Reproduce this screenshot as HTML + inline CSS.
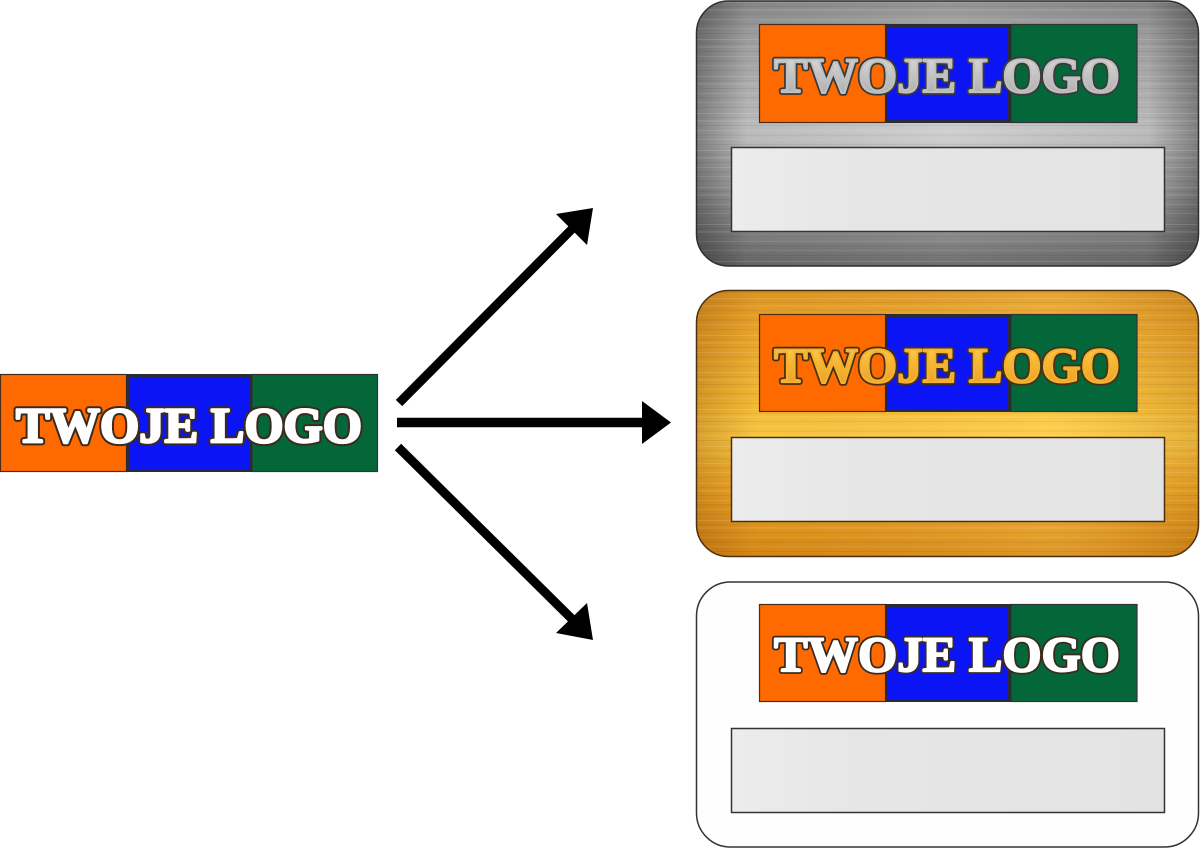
<!DOCTYPE html>
<html>
<head>
<meta charset="utf-8">
<style>
html,body{margin:0;padding:0;background:#fff;}
svg{display:block;}
.t{font-family:"Liberation Serif",serif;font-weight:bold;font-size:50px;}
</style>
</head>
<body>
<svg width="1200" height="848" viewBox="0 0 1200 848" xmlns="http://www.w3.org/2000/svg">
<defs>
  <linearGradient id="silverV" x1="0" y1="0" x2="0" y2="1">
    <stop offset="0" stop-color="#929292"/>
    <stop offset="0.12" stop-color="#ababab"/>
    <stop offset="0.3" stop-color="#bdbdbd"/>
    <stop offset="0.5" stop-color="#d0d0d0"/>
    <stop offset="0.7" stop-color="#b4b4b4"/>
    <stop offset="0.88" stop-color="#8c8c8c"/>
    <stop offset="1" stop-color="#6e6e6e"/>
  </linearGradient>
  <linearGradient id="edgeH" x1="0" y1="0" x2="1" y2="0">
    <stop offset="0" stop-color="#000" stop-opacity="0.38"/>
    <stop offset="0.1" stop-color="#000" stop-opacity="0.1"/>
    <stop offset="0.5" stop-color="#000" stop-opacity="0"/>
    <stop offset="0.9" stop-color="#000" stop-opacity="0.1"/>
    <stop offset="1" stop-color="#000" stop-opacity="0.38"/>
  </linearGradient>
  <linearGradient id="goldV" x1="0" y1="0" x2="0" y2="1">
    <stop offset="0" stop-color="#e39a22"/>
    <stop offset="0.15" stop-color="#eea92e"/>
    <stop offset="0.4" stop-color="#f7bd35"/>
    <stop offset="0.55" stop-color="#ffcd45"/>
    <stop offset="0.75" stop-color="#f2ac2a"/>
    <stop offset="1" stop-color="#d98a16"/>
  </linearGradient>
  <linearGradient id="goldH" x1="0" y1="0" x2="1" y2="0">
    <stop offset="0" stop-color="#7a3a00" stop-opacity="0.3"/>
    <stop offset="0.12" stop-color="#7a3a00" stop-opacity="0.05"/>
    <stop offset="0.7" stop-color="#fff0a0" stop-opacity="0.12"/>
    <stop offset="1" stop-color="#7a3a00" stop-opacity="0.2"/>
  </linearGradient>
  <linearGradient id="field" x1="0" y1="0" x2="1" y2="0">
    <stop offset="0" stop-color="#ececec"/>
    <stop offset="0.3" stop-color="#e6e6e6"/>
    <stop offset="1" stop-color="#e3e3e3"/>
  </linearGradient>
  <linearGradient id="silverText" x1="0" y1="0" x2="0" y2="1">
    <stop offset="0" stop-color="#e2e2e2"/>
    <stop offset="0.5" stop-color="#c4c4c4"/>
    <stop offset="1" stop-color="#a6a6a6"/>
  </linearGradient>
  <linearGradient id="goldText" x1="0" y1="0" x2="0" y2="1">
    <stop offset="0" stop-color="#ffd65a"/>
    <stop offset="0.5" stop-color="#f6b432"/>
    <stop offset="1" stop-color="#e89a22"/>
  </linearGradient>
  <pattern id="brush" width="200" height="37" patternUnits="userSpaceOnUse">
    <rect x="0" y="2" width="200" height="1" fill="#fff" opacity="0.12"/>
    <rect x="0" y="6" width="200" height="1" fill="#000" opacity="0.05"/>
    <rect x="0" y="9" width="200" height="2" fill="#fff" opacity="0.08"/>
    <rect x="0" y="14" width="200" height="1" fill="#000" opacity="0.06"/>
    <rect x="0" y="19" width="200" height="1" fill="#fff" opacity="0.1"/>
    <rect x="0" y="23" width="200" height="2" fill="#000" opacity="0.04"/>
    <rect x="0" y="28" width="200" height="1" fill="#fff" opacity="0.09"/>
    <rect x="0" y="33" width="200" height="1" fill="#000" opacity="0.06"/>
  </pattern>
</defs>

<rect width="1200" height="848" fill="#ffffff"/>

<!-- LEFT LOGO -->
<g>
  <rect x="0.5" y="374.5" width="126" height="97" fill="#fe6a00" stroke="#4a2c18" stroke-width="1.2"/>
  <rect x="252" y="374.5" width="125.5" height="97" fill="#03673a" stroke="#333" stroke-width="1.2"/>
  <rect x="127.5" y="375.5" width="123" height="95" fill="#0a14f5" stroke="#2b2b36" stroke-width="3"/>
  <text class="t" x="16" y="442" textLength="346" lengthAdjust="spacingAndGlyphs" fill="#3a2a20" stroke="#3a2a20" stroke-width="6.5" stroke-linejoin="round">TWOJE LOGO</text>
  <text class="t" x="16" y="442" textLength="346" lengthAdjust="spacingAndGlyphs" fill="#ffffff" stroke="#ffffff" stroke-width="2.5" stroke-linejoin="round">TWOJE LOGO</text>
</g>

<!-- ARROWS -->
<g fill="#000" stroke="#000">
  <line x1="399" y1="403" x2="575" y2="226" stroke-width="9"/>
  <polygon points="593,208 556,214 587,245" stroke="none"/>
  <line x1="397" y1="422.5" x2="648" y2="422.5" stroke-width="9.5"/>
  <polygon points="642,401 671,422.5 642,444" stroke="none"/>
  <line x1="398" y1="447" x2="575" y2="622" stroke-width="9"/>
  <polygon points="593,640 556,633 587,603" stroke="none"/>
</g>

<!-- SILVER BADGE -->
<g>
  <rect x="696.5" y="1" width="502" height="265" rx="32" fill="url(#silverV)"/>
  <rect x="696.5" y="1" width="502" height="265" rx="32" fill="url(#edgeH)"/>
  <rect x="696.5" y="1" width="502" height="265" rx="32" fill="url(#brush)"/>
  <rect x="696.5" y="1" width="502" height="265" rx="32" fill="none" stroke="#2e2e2e" stroke-width="1.5"/>
  <rect x="759.5" y="24.5" width="126" height="98" fill="#fe6a00" stroke="#4a2c18" stroke-width="1.2"/>
  <rect x="1011" y="24.5" width="126" height="98" fill="#03673a" stroke="#333" stroke-width="1.2"/>
  <rect x="886.5" y="25.5" width="123" height="96" fill="#0a14f5" stroke="#2b2b36" stroke-width="3"/>
  <text class="t" x="774" y="92" textLength="346" lengthAdjust="spacingAndGlyphs" fill="#3a3a3a" stroke="#3a3a3a" stroke-width="5.5" stroke-linejoin="round">TWOJE LOGO</text>
  <text class="t" x="774" y="92" textLength="346" lengthAdjust="spacingAndGlyphs" fill="url(#silverText)" stroke="#c0c0c0" stroke-width="2" stroke-linejoin="round">TWOJE LOGO</text>
  <rect x="731.5" y="147.5" width="433" height="84" fill="url(#field)" stroke="#333" stroke-width="1.5"/>
</g>

<!-- GOLD BADGE -->
<g>
  <rect x="696.5" y="290.5" width="502" height="266" rx="32" fill="url(#goldV)"/>
  <rect x="696.5" y="290.5" width="502" height="266" rx="32" fill="url(#goldH)"/>
  <rect x="696.5" y="290.5" width="502" height="266" rx="32" fill="url(#brush)"/>
  <rect x="696.5" y="290.5" width="502" height="266" rx="32" fill="none" stroke="#4a3010" stroke-width="1.5"/>
  <rect x="759.5" y="314.5" width="126" height="97" fill="#fe6a00" stroke="#4a2c18" stroke-width="1.2"/>
  <rect x="1011" y="314.5" width="126" height="97" fill="#03673a" stroke="#333" stroke-width="1.2"/>
  <rect x="886.5" y="315.5" width="123" height="95" fill="#0a14f5" stroke="#2b2b36" stroke-width="3"/>
  <text class="t" x="774" y="382" textLength="346" lengthAdjust="spacingAndGlyphs" fill="#4a3010" stroke="#4a3010" stroke-width="5.5" stroke-linejoin="round">TWOJE LOGO</text>
  <text class="t" x="774" y="382" textLength="346" lengthAdjust="spacingAndGlyphs" fill="url(#goldText)" stroke="#f4b232" stroke-width="2" stroke-linejoin="round">TWOJE LOGO</text>
  <rect x="731.5" y="437.5" width="433" height="84" fill="url(#field)" stroke="#4a3010" stroke-width="1.5"/>
</g>

<!-- WHITE BADGE -->
<g>
  <rect x="696.5" y="582" width="502" height="265" rx="34" fill="#fefefe" stroke="#333" stroke-width="1.5"/>
  <rect x="759.5" y="604.5" width="126" height="97" fill="#fe6a00" stroke="#4a2c18" stroke-width="1.2"/>
  <rect x="1011" y="604.5" width="126" height="97" fill="#03673a" stroke="#333" stroke-width="1.2"/>
  <rect x="886.5" y="605.5" width="123" height="95" fill="#0a14f5" stroke="#2b2b36" stroke-width="3"/>
  <text class="t" x="774" y="671" textLength="346" lengthAdjust="spacingAndGlyphs" fill="#3a2a20" stroke="#3a2a20" stroke-width="5.5" stroke-linejoin="round">TWOJE LOGO</text>
  <text class="t" x="774" y="671" textLength="346" lengthAdjust="spacingAndGlyphs" fill="#ffffff" stroke="#ffffff" stroke-width="2" stroke-linejoin="round">TWOJE LOGO</text>
  <rect x="731.5" y="728.5" width="433" height="84" fill="url(#field)" stroke="#333" stroke-width="1.5"/>
</g>
</svg>
</body>
</html>
